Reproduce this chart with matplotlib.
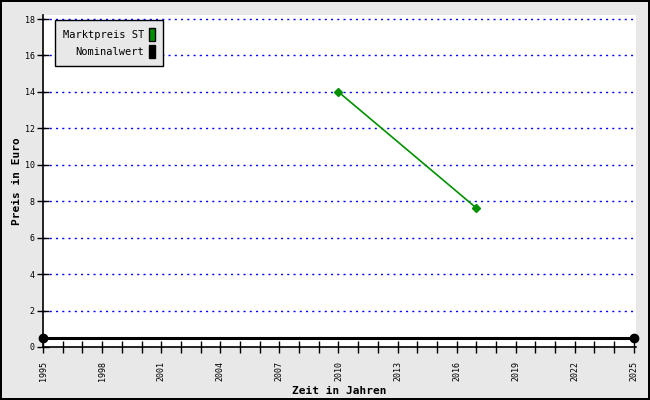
import matplotlib.pyplot as plt
from matplotlib.patches import Rectangle

# Marktpreis ST
years_markt = [2010, 2017]
preis_markt = [14.0, 7.63]
# Nominalwert
years_nom = [1995, 2025]
preis_nom = [0.5, 0.5]

major_years = list(range(1995, 2026, 3))
minor_years = list(range(1995, 2026, 1))
y_ticks = list(range(0, 19, 2))

plt.rcParams['font.family'] = ['DejaVu Sans Mono']

fig = plt.figure(figsize=(6.5, 4), dpi=100, facecolor='#e8e8e8',
                 edgecolor='black', linewidth=1.5)
ax = fig.add_axes([0.0662, 0.1325, 0.912, 0.83])
ax.set_facecolor('white')

ax.plot(years_markt, preis_markt, color='#009000', lw=1.2, marker='D',
        markersize=4, zorder=3)
ax.plot(years_nom, preis_nom, color='black', lw=2.2, marker='o',
        markersize=6, clip_on=False, zorder=3)

ax.set_xlim(1995, 2025.1)
ax.set_ylim(0, 18.22)
ax.set_xticks(major_years)
ax.set_xticks(minor_years, minor=True)
ax.set_xticklabels([str(y) for y in major_years], rotation=90, fontsize=6)
ax.set_yticks(y_ticks)
ax.set_yticklabels([str(v) for v in y_ticks], fontsize=6)
ax.tick_params(axis='both', which='both', direction='inout', length=8,
               width=1, pad=2)
ax.tick_params(axis='x', which='major', pad=6)

ax.grid(axis='y', color='#0000ff', linestyle=(0, (1.5, 3)), linewidth=1)
ax.set_axisbelow(True)
for s in ['top', 'right']:
    ax.spines[s].set_visible(False)
ax.spines['left'].set_linewidth(1.2)
ax.spines['bottom'].set_linewidth(1.2)

ax.set_xlabel('Zeit in Jahren', fontsize=8, fontweight='bold', labelpad=4)
ax.set_ylabel('Preis in Euro', fontsize=8, fontweight='bold', labelpad=2)

handles = [Rectangle((0, 0), 1, 1, facecolor='#009000', edgecolor='black'),
           Rectangle((0, 0), 1, 1, facecolor='black', edgecolor='black')]
leg = ax.legend(handles, ['Marktpreis ST', 'Nominalwert'], loc='upper left',
                bbox_to_anchor=(0.02, 0.985), borderaxespad=0,
                markerfirst=False, fontsize=7.5,
                handlelength=0.6, handleheight=1.5, handletextpad=0.5,
                labelspacing=0.45, borderpad=0.75, fancybox=False,
                framealpha=1, facecolor='#e8e8e8', edgecolor='black')
leg.get_frame().set_linewidth(1)
for t in leg.get_texts():
    t.set_ha('right')
leg._legend_box.align = 'right'

fig.savefig('out.png', dpi=100, facecolor=fig.get_facecolor(),
            edgecolor=fig.get_edgecolor())
